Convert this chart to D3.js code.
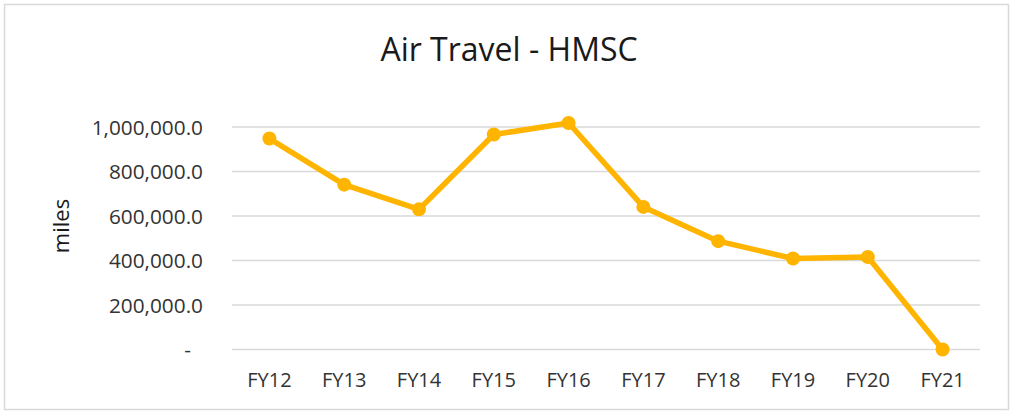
<!DOCTYPE html>
<html><head><meta charset="utf-8">
<script src="https://cdn.jsdelivr.net/npm/d3@7"></script>
<style>
html,body{margin:0;padding:0;background:#fff;}
text{font-family:"Open Sans", sans-serif;}
</style></head>
<body><svg id="c" width="1013" height="412"></svg>
<script>
const categories = ["FY12","FY13","FY14","FY15","FY16","FY17","FY18","FY19","FY20","FY21"];
const values = [948000, 741000, 630000, 966000, 1018000, 641000, 487000, 409000, 416000, 0];
const yTicks = [0, 200000, 400000, 600000, 800000, 1000000];
const title = "Air Travel - HMSC";
const yLabel = "miles";

const FONT = '"Open Sans", sans-serif';
const svg = d3.select("#c");
svg.append("rect").attr("x",4.5).attr("y",4.5).attr("width",1004).attr("height",405)
  .attr("fill","#fff").attr("stroke","#d9d9d9").attr("stroke-width",1.5);

const x = d3.scaleBand().domain(categories).range([232, 980]);
const y = d3.scaleLinear().domain([0, 1000000]).range([349.5, 127]);

svg.append("g").selectAll("line").data(yTicks).join("line")
  .attr("x1",232).attr("x2",980).attr("y1",d=>y(d)).attr("y2",d=>y(d))
  .attr("stroke","#d9d9d9").attr("stroke-width",1.5);

const fmt = d => d === 0 ? "-" : d3.format(",.1f")(d);
const yAxis = d3.axisLeft(y).tickValues(yTicks).tickFormat(fmt).tickSize(0).tickPadding(0);
const ya = svg.append("g").attr("transform","translate(203,0)").call(yAxis);
ya.select(".domain").remove();
ya.attr("font-size",null).attr("font-family",null);
ya.selectAll("text").attr("font-size",20.8).attr("fill","#333")
  .attr("font-family",FONT).attr("dy","0.35em")
  .attr("dx", d => d===0 ? -12 : 0);

const xAxis = d3.axisBottom(x).tickSize(0).tickPadding(0);
const xa = svg.append("g").call(xAxis);
xa.select(".domain").remove();
xa.attr("font-size",null).attr("font-family",null);
xa.selectAll("text").attr("font-size",20).attr("fill","#333")
  .attr("font-family",FONT).attr("y",387).attr("dy",null);

const cx = d => x(d) + x.bandwidth()/2;
const line = d3.line().x((d,i)=>cx(categories[i])).y(d=>y(d));
svg.append("path").datum(values).attr("d",line).attr("fill","none")
  .attr("stroke","#FFB400").attr("stroke-width",5.5).attr("stroke-linejoin","round");
svg.append("g").selectAll("circle").data(values).join("circle")
  .attr("cx",(d,i)=>cx(categories[i])).attr("cy",d=>y(d)).attr("r",7).attr("fill","#FFB400");

svg.append("text").attr("x",509).attr("y",61).attr("text-anchor","middle")
  .attr("font-size",32).attr("fill","#1a1a1a").text(title);

svg.append("text").attr("transform","translate(69,226) rotate(-90)").attr("text-anchor","middle")
  .attr("font-size",22).attr("fill","#1a1a1a").text(yLabel);
</script></body></html>
